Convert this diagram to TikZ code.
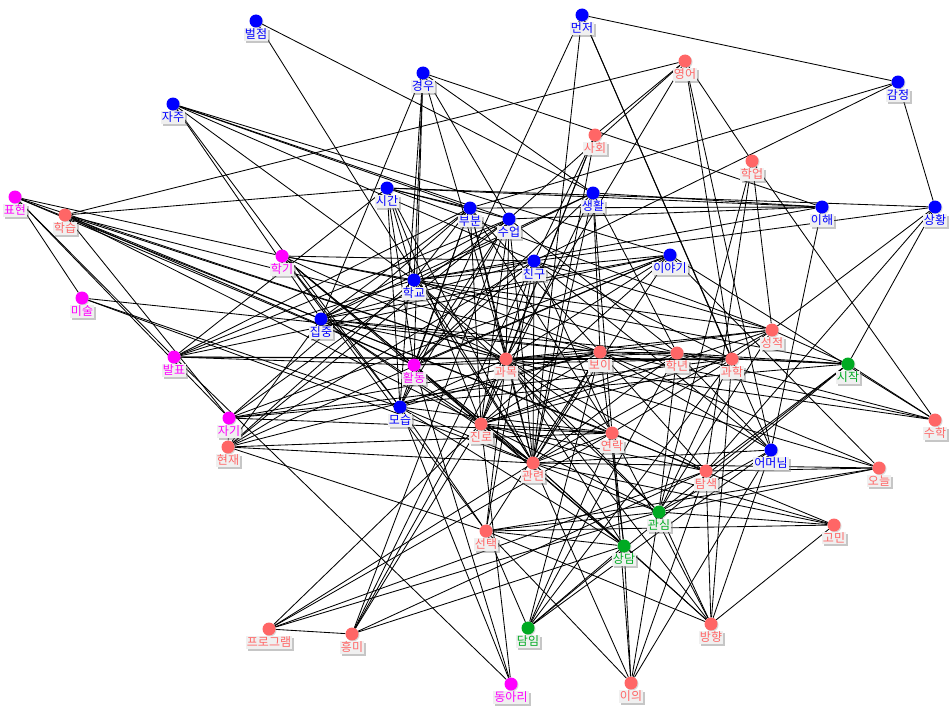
\documentclass[tikz,border=0pt]{standalone}
\usepackage{fontspec}
\setmainfont{Noto Sans CJK KR}
\usetikzlibrary{shadows}
\pgfdeclarelayer{background}
\pgfsetlayers{background,main}
\definecolor{wblue}{HTML}{0000FF}
\definecolor{wred}{HTML}{FF6666}
\definecolor{wpink}{HTML}{FF00FF}
\definecolor{wgreen}{HTML}{00AA22}
\tikzset{
  dot/.style={circle, fill=#1, minimum size=13pt, inner sep=0pt, drop shadow={shadow xshift=1pt, shadow yshift=-1pt, opacity=0.3}},
  tag/.style={fill=black!6, inner sep=1pt, font=\fontsize{12}{13}\selectfont, text=#1, drop shadow={shadow xshift=2pt, shadow yshift=-2pt, opacity=0.45}},
  link/.style={draw=black, line width=0.85pt},
}

\begin{document}
\begin{tikzpicture}[x=1pt, y=-1pt]
    \useasboundingbox (0,0) rectangle (950,709);
    % blue words
    \node[dot=wblue, label={[tag=wblue]below:벌점}] (beol) at (256,21) {};
    \node[dot=wblue, label={[tag=wblue]below:먼저}] (meon) at (582,15) {};
    \node[dot=wblue, label={[tag=wblue]below:경우}] (gyeong) at (423,73) {};
    \node[dot=wblue, label={[tag=wblue]below:자주}] (jaju) at (173,104) {};
    \node[dot=wblue, label={[tag=wblue]below:감정}] (gamj) at (898,82) {};
    \node[dot=wblue, label={[tag=wblue]below:시간}] (sigan) at (387,188) {};
    \node[dot=wblue, label={[tag=wblue]below:생활}] (saeng) at (593,193) {};
    \node[dot=wblue, label={[tag=wblue]below:부분}] (bubun) at (470,208) {};
    \node[dot=wblue, label={[tag=wblue]below:수업}] (sueop) at (509,219) {};
    \node[dot=wblue, label={[tag=wblue]below:이해}] (ihae) at (822,207) {};
    \node[dot=wblue, label={[tag=wblue]below:상황}] (sangh) at (935,207) {};
    \node[dot=wblue, label={[tag=wblue]below:친구}] (chingu) at (534,261) {};
    \node[dot=wblue, label={[tag=wblue]below:이야기}] (iyagi) at (670,255) {};
    \node[dot=wblue, label={[tag=wblue]below:학교}] (hakgyo) at (414,280) {};
    \node[dot=wblue, label={[tag=wblue]below:집중}] (jipj) at (321,319) {};
    \node[dot=wblue, label={[tag=wblue]below:모습}] (moseup) at (400,407) {};
    \node[dot=wblue, label={[tag=wblue]below:어머님}] (eomeo) at (771,450) {};
    % red words
    \node[dot=wred, label={[tag=wred]below:영어}] (yeong) at (685,61) {};
    \node[dot=wred, label={[tag=wred]below:사회}] (sahoe) at (595,135) {};
    \node[dot=wred, label={[tag=wred]below:학업}] (hageop) at (752,161) {};
    \node[dot=wred, label={[tag=wred]below:학습}] (hakseup) at (65,215) {};
    \node[dot=wred, label={[tag=wred]below:과목}] (gwamok) at (506,359) {};
    \node[dot=wred, label={[tag=wred]below:보이}] (boi) at (600,352) {};
    \node[dot=wred, label={[tag=wred]below:학년}] (haknyeon) at (677,353) {};
    \node[dot=wred, label={[tag=wred]below:과학}] (gwahak) at (732,359) {};
    \node[dot=wred, label={[tag=wred]below:성적}] (seongj) at (772,330) {};
    \node[dot=wred, label={[tag=wred]below:진로}] (jinro) at (481,424) {};
    \node[dot=wred, label={[tag=wred]below:연락}] (yeonrak) at (612,433) {};
    \node[dot=wred, label={[tag=wred]below:관련}] (gwanr) at (533,463) {};
    \node[dot=wred, label={[tag=wred]below:현재}] (hyeonj) at (228,447) {};
    \node[dot=wred, label={[tag=wred]below:탐색}] (tamsaek) at (706,471) {};
    \node[dot=wred, label={[tag=wred]below:오늘}] (oneul) at (879,468) {};
    \node[dot=wred, label={[tag=wred]below:수학}] (suhak) at (935,420) {};
    \node[dot=wred, label={[tag=wred]below:고민}] (gomin) at (834,525) {};
    \node[dot=wred, label={[tag=wred]below:선택}] (seont) at (486,531) {};
    \node[dot=wred, label={[tag=wred]below:프로그램}] (prog) at (269,629) {};
    \node[dot=wred, label={[tag=wred]below:흥미}] (heungmi) at (352,634) {};
    \node[dot=wred, label={[tag=wred]below:방향}] (bangh) at (711,624) {};
    \node[dot=wred, label={[tag=wred]below:이의}] (iui) at (631,683) {};
    % magenta words
    \node[dot=wpink, label={[tag=wpink]below:표현}] (pyoh) at (15,197) {};
    \node[dot=wpink, label={[tag=wpink]below:학기}] (hakgi) at (282,256) {};
    \node[dot=wpink, label={[tag=wpink]below:미술}] (misul) at (82,298) {};
    \node[dot=wpink, label={[tag=wpink]below:발표}] (balpyo) at (174,357) {};
    \node[dot=wpink, label={[tag=wpink]below:활동}] (hwald) at (414,365) {};
    \node[dot=wpink, label={[tag=wpink]below:자기}] (jagi) at (229,418) {};
    \node[dot=wpink, label={[tag=wpink]below:동아리}] (dongari) at (511,684) {};
    % green words
    \node[dot=wgreen, label={[tag=wgreen]below:시작}] (sijak) at (848,364) {};
    \node[dot=wgreen, label={[tag=wgreen]below:관심}] (gwansim) at (659,512) {};
    \node[dot=wgreen, label={[tag=wgreen]below:상담}] (sangdam) at (624,546) {};
    \node[dot=wgreen, label={[tag=wgreen]below:담임}] (damim) at (528,628) {};

    \begin{pgfonlayer}{background}
    \foreach \a/\b in {beol/saeng, beol/gwanr,
        meon/gamj, meon/moseup, meon/gwanr, meon/gwahak, meon/eomeo,
        gyeong/ihae, gyeong/saeng, gyeong/hakgyo, gyeong/hwald, gyeong/moseup, gyeong/jipj, gyeong/sueop, gyeong/gwamok,
        jaju/iyagi, jaju/sueop, jaju/bubun, jaju/chingu, jaju/hakgyo, jaju/moseup, jaju/jipj,
        gamj/sangh, gamj/bubun, gamj/chingu,
        pyoh/hakgi, pyoh/jipj, pyoh/gwamok, pyoh/misul, pyoh/balpyo, pyoh/hwald, pyoh/jagi,
        hakseup/yeong, hakseup/sigan, hakseup/jagi, hakseup/gwamok, hakseup/boi, hakseup/hwald, hakseup/jinro, hakseup/jipj,
        misul/boi, misul/moseup, misul/gwanr,
        balpyo/sigan, balpyo/bubun, balpyo/sueop, balpyo/hakgyo, balpyo/iyagi, balpyo/gwamok, balpyo/hwald, balpyo/gwahak, balpyo/dongari,
        yeong/sahoe, yeong/sueop, yeong/gwamok, yeong/gwahak, yeong/eomeo, yeong/hageop,
        sahoe/chingu, sahoe/gwamok, sahoe/jinro, sahoe/gwanr,
        hageop/gwansim, hageop/tamsaek, hageop/seongj, hageop/suhak,
        ihae/sigan, ihae/saeng, ihae/bubun, ihae/sueop, ihae/eomeo, ihae/hakgyo,
        sangh/sigan, sangh/chingu, sangh/sijak, sangh/tamsaek, sangh/seongj,
        hyeonj/jipj, hyeonj/hakgyo, hyeonj/sueop, hyeonj/chingu, hyeonj/iyagi, hyeonj/boi, hyeonj/yeonrak, hyeonj/gwanr, hyeonj/seont, hyeonj/jagi,
        jagi/bubun, jagi/sueop, jagi/iyagi, jagi/boi, jagi/gwahak, jagi/sijak, jagi/yeonrak,
        prog/jinro, prog/gwanr, prog/yeonrak, prog/tamsaek, prog/gwansim, prog/heungmi,
        heungmi/gwamok, heungmi/jinro, heungmi/chingu, heungmi/sueop, heungmi/tamsaek, heungmi/sangdam,
        dongari/moseup, dongari/hwald, dongari/jinro,
        iui/seont, iui/gwanr, iui/sangdam, iui/gwansim, iui/tamsaek, iui/eomeo, iui/yeonrak,
        bangh/tamsaek, bangh/gwansim, bangh/gomin, bangh/sangdam, bangh/seont, bangh/yeonrak, bangh/eomeo, bangh/gwamok, bangh/gwahak, bangh/gwanr,
        gomin/gwanr, gomin/yeonrak, gomin/seont, gomin/jinro, gomin/gwansim,
        oneul/gwanr, oneul/tamsaek, oneul/seont, oneul/gwansim, oneul/iyagi, oneul/gwamok, oneul/boi,
        suhak/boi, suhak/haknyeon, suhak/iyagi, suhak/gwamok, suhak/sijak,
        sijak/seongj, sijak/gwahak, sijak/haknyeon, sijak/tamsaek, sijak/gwansim, sijak/damim, sijak/hakgi, sijak/boi,
        eomeo/gwansim, eomeo/damim, eomeo/haknyeon, eomeo/boi, eomeo/chingu, eomeo/gwanr,
        damim/yeonrak, damim/haknyeon, damim/gwahak, damim/sangdam, damim/seont, damim/boi,
        sangdam/gwanr, sangdam/jinro, sangdam/moseup, sangdam/hwald, sangdam/gwamok, sangdam/boi, sangdam/seont, sangdam/yeonrak,
        gwansim/jinro, gwansim/gwamok, gwansim/gwanr, gwansim/haknyeon, gwansim/seongj, gwansim/gwahak, gwansim/seont, gwansim/hakgyo,
        tamsaek/gwamok, tamsaek/jinro, tamsaek/boi, tamsaek/jipj,
        seont/moseup, seont/hakgi, seont/gwamok, seont/chingu, seont/boi,
        sigan/bubun, sigan/sueop, sigan/hakgyo, sigan/hwald, sigan/moseup, sigan/jinro, sigan/gwanr, sigan/seongj,
        saeng/boi, saeng/yeonrak, saeng/hakgyo, saeng/jipj, saeng/hwald, saeng/jinro, saeng/gwanr, saeng/haknyeon,
        bubun/hakgyo, bubun/jipj, bubun/hwald, bubun/moseup, bubun/gwamok, bubun/jinro, bubun/gwanr, bubun/yeonrak, bubun/boi,
        sueop/jinro, sueop/gwanr, sueop/gwamok, sueop/hwald, sueop/jipj, sueop/moseup, sueop/haknyeon,
        chingu/hakgyo, chingu/gwanr, chingu/yeonrak, chingu/jinro, chingu/gwahak, chingu/seongj, chingu/jipj, chingu/hwald,
        iyagi/hakgyo, iyagi/jipj, iyagi/gwanr, iyagi/hwald, iyagi/gwamok, iyagi/jinro,
        hakgyo/gwanr, hakgyo/gwamok, hakgyo/boi, hakgyo/seongj, hakgyo/haknyeon,
        jipj/gwanr, jipj/gwamok, jipj/jinro, jipj/boi, jipj/yeonrak, jipj/haknyeon,
        hwald/gwanr, hwald/jinro, hwald/gwamok, hwald/gwahak,
        moseup/gwanr, moseup/boi, moseup/yeonrak, moseup/gwamok,
        hakgi/hwald, hakgi/moseup, hakgi/gwanr, hakgi/jinro, hakgi/gwamok, hakgi/chingu, hakgi/hakgyo,
        gwamok/boi, gwamok/haknyeon, gwamok/gwahak, gwamok/yeonrak, gwamok/gwanr,
        boi/haknyeon, boi/seongj, boi/gwanr, boi/jinro,
        haknyeon/gwahak, haknyeon/jinro, haknyeon/gwanr,
        gwahak/seongj, gwahak/jinro, gwahak/yeonrak,
        seongj/jinro, seongj/gwanr, seongj/gwamok,
        jinro/yeonrak, jinro/gwanr, yeonrak/gwanr}
        \draw[link] (\a) -- (\b);
    \end{pgfonlayer}
\end{tikzpicture}
\end{document}
